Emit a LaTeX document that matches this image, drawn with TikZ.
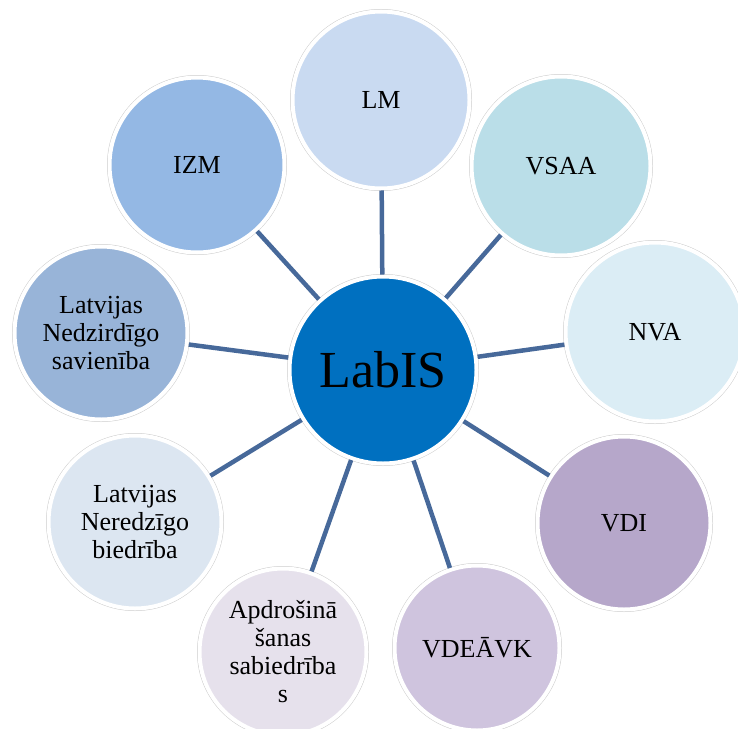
\documentclass[tikz,border=0pt]{standalone}
\usepackage{fontspec}
\setmainfont{Liberation Serif}
\usepackage{tikz}
\usetikzlibrary{arrows.meta}

\definecolor{labisblue}{HTML}{0070C0}
\definecolor{linkblue}{HTML}{47699A}
\definecolor{lmfill}{HTML}{C9DAF1}
\definecolor{vsaafill}{HTML}{BADEE8}
\definecolor{nvafill}{HTML}{DBEDF5}
\definecolor{vdifill}{HTML}{B6A7CA}
\definecolor{vdeavkfill}{HTML}{CFC4DE}
\definecolor{apdrfill}{HTML}{E6E1EC}
\definecolor{neredzfill}{HTML}{DCE6F1}
\definecolor{nedzfill}{HTML}{98B4D8}
\definecolor{izmfill}{HTML}{94B8E4}

\begin{document}
\begin{tikzpicture}[x=1pt,y=-1pt,
    bubble/.style={shape=circle,draw=white,line width=4pt,inner sep=0pt,align=center,
        preaction={draw=black!20,line width=5pt},
        font=\fontsize{26}{28}\selectfont},
    link/.style={draw=linkblue,line width=4.5pt}]
                \useasboundingbox (0,0) rectangle (738,728);
                \clip (0,0) rectangle (738,728);
                \node[bubble,fill=labisblue,minimum size=187pt,font=\fontsize{52}{56}\selectfont] (LabIS) at (383,370) {LabIS};
                \node[bubble,fill=lmfill,minimum size=177pt] (LM) at (381,100) {LM};
                \node[bubble,fill=vsaafill,minimum size=179pt] (VSAA) at (561,166) {VSAA};
                \node[bubble,fill=nvafill,minimum size=179pt] (NVA) at (655,332) {NVA};
                \node[bubble,fill=vdifill,minimum size=173pt] (VDI) at (624,523) {VDI};
                \node[bubble,fill=vdeavkfill,minimum size=165pt] (VDEAVK) at (477,648) {VDEĀVK};
                \node[bubble,fill=apdrfill,minimum size=167pt] (Apdr) at (283,652) {Apdrošinā\\šanas\\sabiedrība\\s};
                \node[bubble,fill=neredzfill,minimum size=173pt] (Neredz) at (135,522) {Latvijas\\Neredzīgo\\biedrība};
                \node[bubble,fill=nedzfill,minimum size=173pt] (Nedz) at (101,333) {Latvijas\\Nedzirdīgo\\savienība};
                \node[bubble,fill=izmfill,minimum size=175pt] (IZM) at (197,165) {IZM};

                \path [link](LabIS) edge (LM);
                \path [link](LabIS) edge (VSAA);
                \path [link](LabIS) edge (NVA);
                \path [link](LabIS) edge (VDI);
                \path [link](LabIS) edge (VDEAVK);
                \path [link](LabIS) edge (Apdr);
                \path [link](LabIS) edge (Neredz);
                \path [link](LabIS) edge (Nedz);
                \path [link](LabIS) edge (IZM);
            \end{tikzpicture}
\end{document}
